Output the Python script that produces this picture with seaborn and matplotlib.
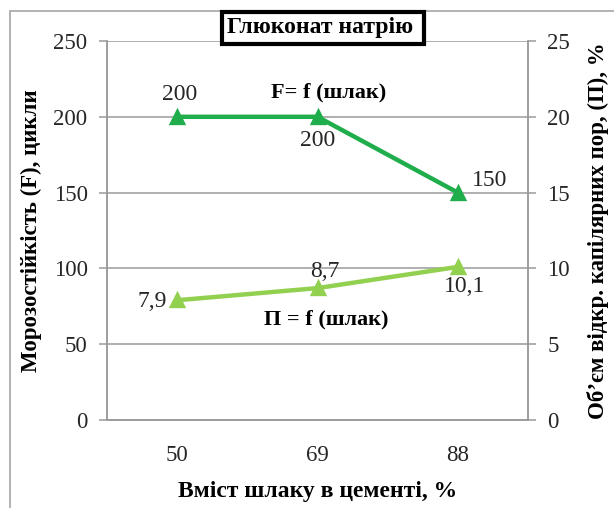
import matplotlib
matplotlib.use("Agg")
import matplotlib.pyplot as plt
from matplotlib.patches import Rectangle
import seaborn as sns

# Slag content in cement, %
slag = ["50", "69", "88"]
# Frost resistance F, cycles
frost = [200, 200, 150]
frost_labels = ["200", "200", "150"]
# Open capillary porosity P, %
pores = [7.9, 8.7, 10.1]
pores_labels = ["7,9", "8,7", "10,1"]

left_ticks = [0, 50, 100, 150, 200, 250]
right_ticks = [0, 5, 10, 15, 20, 25]

sns.set_theme(style="white")
plt.rcParams["font.family"] = ["Liberation Serif", "DejaVu Serif"]

W, H = 614, 508
fig = plt.figure(figsize=(W / 100, H / 100), dpi=100)
fig.patch.set_facecolor("white")

# outer frame of the chart area
fig.patches.append(Rectangle((10 / W, -0.1), 1.2, 1 - 11 / H + 0.1,
                             transform=fig.transFigure, fill=False,
                             edgecolor="#a6a6a6", linewidth=1.2, zorder=0))

ax = fig.add_axes([107 / W, 1 - 420 / H, (528 - 107) / W, (420 - 41) / H])
ax2 = ax.twinx()

grid_c = "#9a9a9a"
dark_green = "#1fae4b"
light_green = "#92d050"
txt_c = "#262626"

sns.pointplot(x=slag, y=frost, ax=ax, color=dark_green, markers="^",
              linestyles="-", markersize=8.5, linewidth=3.2)
sns.pointplot(x=slag, y=pores, ax=ax2, color=light_green, markers="^",
              linestyles="-", markersize=8.5, linewidth=3.2)

ax.set_ylim(0, 250)
ax2.set_ylim(0, 25)
ax.set_xlim(-0.5, 2.5)
ax.set_yticks(left_ticks)
ax2.set_yticks(right_ticks)
ax.set_yticklabels([str(t) for t in left_ticks])
ax2.set_yticklabels([str(t) for t in right_ticks])

ax.yaxis.grid(True, color=grid_c, linewidth=1.1)
ax.set_axisbelow(True)
for a in (ax, ax2):
    for side, sp in a.spines.items():
        sp.set_color(grid_c)
        sp.set_linewidth(1.1)
    a.spines["top"].set_visible(False)
    a.tick_params(axis="both", colors=grid_c, labelcolor=txt_c,
                  labelsize=16.5, length=6, width=1.1, direction="out")

# category boundary ticks on x axis
ax.set_xticks([-0.5, 0.5, 1.5, 2.5], minor=True)
ax.set_xticks(range(len(slag)))
ax.set_xticklabels(slag)
ax.tick_params(axis="x", which="major", length=0, pad=18)
ax.tick_params(axis="x", which="minor", length=6, width=1.1, color=grid_c)
ax.tick_params(axis="y", pad=8)
ax2.tick_params(axis="y", pad=8)

ax.set_xlabel("Вміст шлаку в цементі, %", fontsize=17, fontweight="bold",
              color="black", va="center")
ax.xaxis.set_label_coords(0.5, (420 - 491) / (420 - 41))
ax.set_ylabel("Морозостійкість (F), цикли", fontsize=16.5, fontweight="bold",
              color="black", labelpad=8)
ax2.set_ylabel("Об’єм відкр. капілярних пор, (П), %", fontsize=16.5,
               fontweight="bold", color="black", labelpad=12)
ax2.set_xlabel("")

# data labels
f_off = [(2, 16), (0, -17), (23, 9)]
for i, (v, s) in enumerate(zip(frost, frost_labels)):
    ax.annotate(s, (i, v), xytext=f_off[i], textcoords="offset points",
                ha="center", va="center", fontsize=17, color=txt_c)
p_off = [(-18, -1), (5, 12), (5, -14)]
for i, (v, s) in enumerate(zip(pores, pores_labels)):
    ax2.annotate(s, (i, v), xytext=p_off[i], textcoords="offset points",
                 ha="center", va="center", fontsize=17, color=txt_c)

ax.text(1.08, 216, "F= f (шлак)", fontsize=16, fontweight="bold",
        ha="center", va="center", color="black")
ax2.text(1.06, 6.6, "П = f (шлак)", fontsize=16, fontweight="bold",
         ha="center", va="center", color="black")

# title in a framed box
fig.patches.append(Rectangle((222 / W, 1 - 44 / H), (424 - 222) / W, 32 / H,
                             transform=fig.transFigure, facecolor="white",
                             edgecolor="black", linewidth=3, zorder=5))
fig.text(320 / W, 1 - 28 / H, "Глюконат натрію", fontsize=17,
         fontweight="bold", ha="center", va="center", color="black",
         zorder=6)

fig.savefig("out.png", dpi=100, facecolor="white")
